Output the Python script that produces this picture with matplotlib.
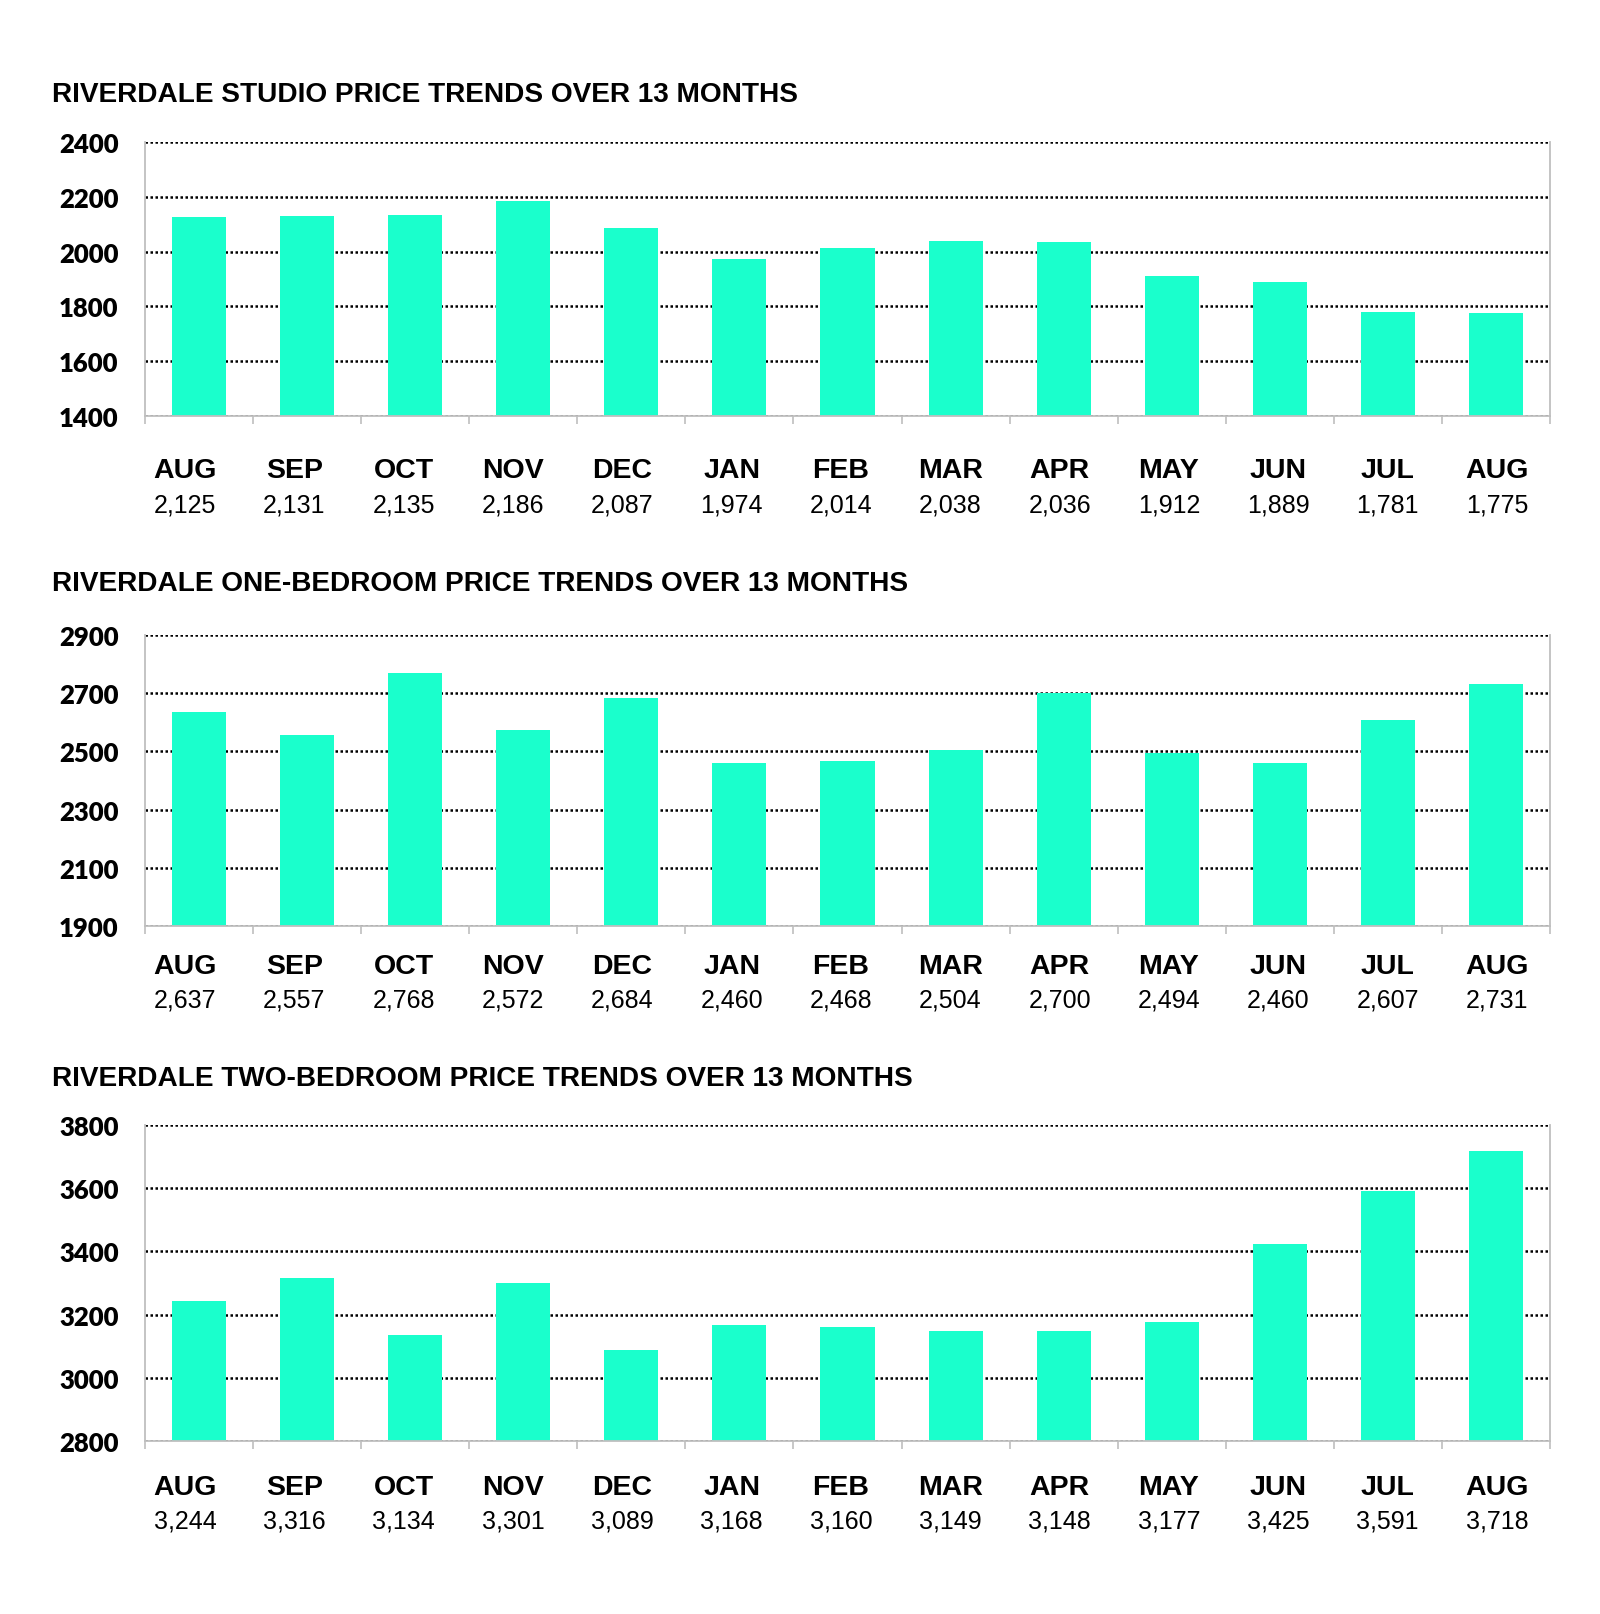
import matplotlib
matplotlib.use("Agg")
import matplotlib.pyplot as plt
import numpy as np

months = ["AUG", "SEP", "OCT", "NOV", "DEC", "JAN", "FEB", "MAR", "APR", "MAY", "JUN", "JUL", "AUG"]

studio = [2125, 2131, 2135, 2186, 2087, 1974, 2014, 2038, 2036, 1912, 1889, 1781, 1775]
one_bed = [2637, 2557, 2768, 2572, 2684, 2460, 2468, 2504, 2700, 2494, 2460, 2607, 2731]
two_bed = [3244, 3316, 3134, 3301, 3089, 3168, 3160, 3149, 3148, 3177, 3425, 3591, 3718]

titles = ["RIVERDALE STUDIO PRICE TRENDS OVER 13 MONTHS",
          "RIVERDALE ONE-BEDROOM PRICE TRENDS OVER 13 MONTHS",
          "RIVERDALE TWO-BEDROOM PRICE TRENDS OVER 13 MONTHS"]
yticks_list = [[1400, 1600, 1800, 2000, 2200, 2400],
               [1900, 2100, 2300, 2500, 2700, 2900],
               [2800, 3000, 3200, 3400, 3600, 3800]]
series = [studio, one_bed, two_bed]

BAR = "#1AFFCC"
SPINE = "#BFBFBF"
W, H = 1600, 1615
fig = plt.figure(figsize=(W / 100, H / 100), dpi=100)

# pixel layout: (top, bottom, title_y, label_offset_pt, value_offset_pt)
layout = [(143, 417, 95, 39, 64),
          (636, 927, 584, 29, 53),
          (1126, 1442, 1079, 33, 57)]
left_px, right_px = 145, 1550
# label row positions (axes fraction), laid out slightly apart from bar centres
label_pos = np.linspace((185 - left_px) / (right_px - left_px),
                        (1497 - left_px) / (right_px - left_px), len(months))

for vals, title, yt, (top, bot, ty, loff, voff) in zip(series, titles, yticks_list, layout):
    ax = fig.add_axes([left_px / W, 1 - bot / H, (right_px - left_px) / W, (bot - top) / H])
    x = np.arange(len(months))
    ax.bar(x, vals, width=0.5, color=BAR, zorder=2)
    ax.set_xlim(-0.5, len(months) - 0.5)
    ax.set_ylim(yt[0], yt[-1])
    ax.set_yticks(yt)
    ax.set_yticklabels([str(v) for v in yt], fontfamily="Lato", fontweight="heavy", fontsize=18.5)
    ax.tick_params(axis="y", length=0, pad=19)
    ax.yaxis.grid(True, color="black", linestyle=(0, (1, 1)), linewidth=1.8)
    ax.set_axisbelow(True)
    # category boundary ticks
    ax.set_xticks(np.arange(-0.5, len(months), 1.0))
    ax.set_xticklabels([])
    ax.tick_params(axis="x", length=6, width=1.2, color=SPINE, direction="out")
    for s in ["left", "right", "bottom"]:
        ax.spines[s].set_color(SPINE)
        ax.spines[s].set_linewidth(1.3)
    ax.spines["top"].set_visible(False)
    for lp, m, v in zip(label_pos, months, vals):
        ax.annotate(m, xy=(lp, 0), xycoords="axes fraction",
                    xytext=(0, -loff), textcoords="offset points",
                    ha="center", va="center", fontsize=20.5, fontweight="bold",
                    fontfamily="Liberation Sans")
        ax.annotate(f"{v:,}", xy=(lp, 0), xycoords="axes fraction",
                    xytext=(0, -voff), textcoords="offset points",
                    ha="center", va="center", fontsize=18,
                    fontfamily="Liberation Sans")
    fig.text(52 / W, 1 - ty / H, title, ha="left", va="center", fontsize=20.2,
             fontweight="bold", fontfamily="Liberation Sans")

fig.savefig("out.png", dpi=100, facecolor="white")
